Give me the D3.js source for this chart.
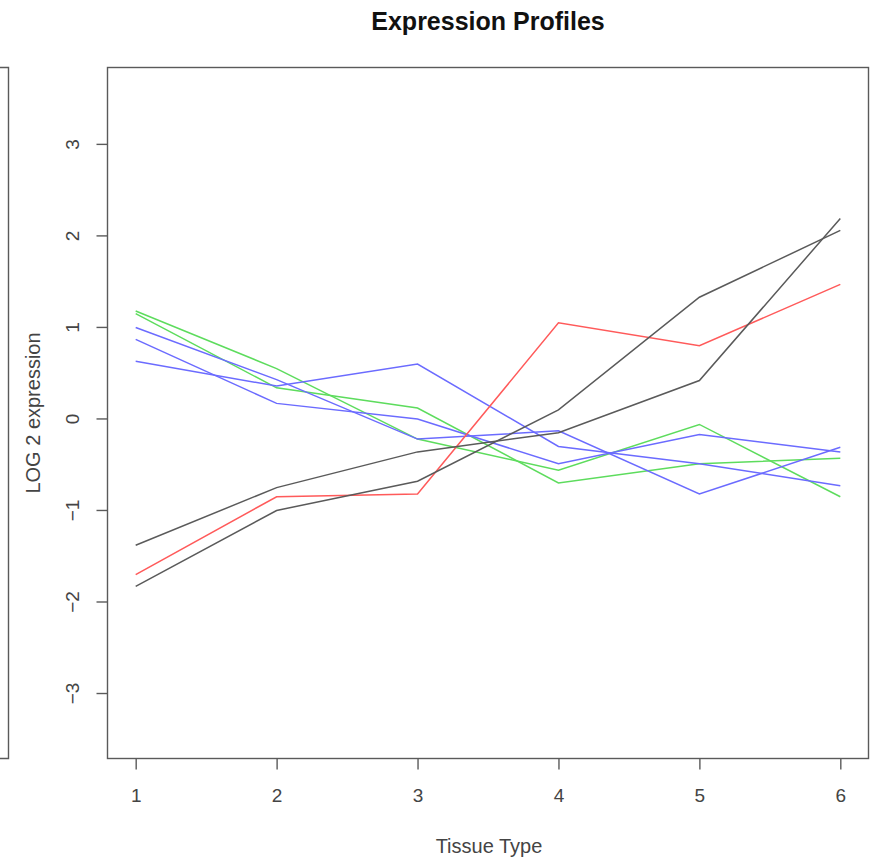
<!DOCTYPE html>
<html><head><meta charset="utf-8">
<script src="https://cdn.jsdelivr.net/npm/d3@7"></script>
<style>body{margin:0;background:#fff}svg{display:block}</style>
</head><body>
<svg id="c" width="870" height="859"></svg>
<script>
const tissues = [1, 2, 3, 4, 5, 6];
const xTicks = [1, 2, 3, 4, 5, 6];
const yTicks = [-3, -2, -1, 0, 1, 2, 3];
const seriesNames = ["G1","G2","B1","B2","B3","R1","K1","K2"];
const seriesColors = ["#5ddc5d","#5ddc5d","#6b6bff","#6b6bff","#6b6bff","#ff5a5a","#5a5a5a","#5a5a5a"];
const g1 = [1.18, 0.55, -0.22, -0.56, -0.06, -0.85];
const g2 = [1.15, 0.34, 0.12, -0.70, -0.49, -0.43];
const b1 = [0.63, 0.36, 0.60, -0.30, -0.49, -0.73];
const b2 = [0.87, 0.17, 0.00, -0.49, -0.17, -0.36];
const b3 = [1.00, 0.43, -0.22, -0.13, -0.82, -0.31];
const r1 = [-1.70, -0.85, -0.82, 1.05, 0.80, 1.47];
const k1 = [-1.38, -0.75, -0.36, -0.15, 0.42, 2.19];
const k2 = [-1.83, -1.00, -0.68, 0.10, 1.33, 2.06];
const seriesValues = [g1, g2, b1, b2, b3, r1, k1, k2];

const svg = d3.select("#c");
const L = 107.5, R = 868.5, T = 67.5, B = 758.5;
const x = d3.scaleLinear().domain([0.8, 6.2]).range([L, R]);
const y = d3.scaleLinear().domain([-3.71, 3.84]).range([B, T]);
const axisCol = "#5a5a5a", textCol = "#444";
const font = "'Liberation Sans', Arial, sans-serif";

// partial left panel
svg.append("path").attr("d", `M0,${T}H8.5V${B}H0`).attr("fill","none").attr("stroke",axisCol).attr("stroke-width",1.4);

// lines
const line = d3.line().x((d,i) => x(tissues[i])).y(d => y(d));
const plot = svg.append("g");
seriesValues.forEach((vals, i) => {
  plot.append("path").datum(vals).attr("d", line).attr("fill","none")
    .attr("stroke", seriesColors[i]).attr("stroke-width", 1.5);
});

// box
svg.append("rect").attr("x",L).attr("y",T).attr("width",R-L).attr("height",B-T)
  .attr("fill","none").attr("stroke",axisCol).attr("stroke-width",1.4);

// x axis
const xa = svg.append("g").attr("transform",`translate(0,${B})`)
  .call(d3.axisBottom(x).tickValues(xTicks).tickSize(11).tickPadding(19).tickFormat(d3.format("d")));
xa.select(".domain").remove();
xa.selectAll("line").attr("stroke",axisCol).attr("stroke-width",1.4);
xa.selectAll("text").attr("fill",textCol).style("font-family",font).style("font-size","19px");

// y axis
const ya = svg.append("g").attr("transform",`translate(${L},0)`)
  .call(d3.axisLeft(y).tickValues(yTicks).tickSize(11).tickPadding(0).tickFormat(d3.format("d")));
ya.select(".domain").remove();
ya.selectAll("line").attr("stroke",axisCol).attr("stroke-width",1.4);
ya.selectAll("text").attr("fill",textCol).style("font-family",font).style("font-size","19px")
  .attr("x",0).attr("dy",null).attr("text-anchor","middle")
  .attr("transform", d => `translate(-34,${y(d)}) rotate(-90)`).attr("y",0)
  .attr("dominant-baseline","middle");
ya.selectAll(".tick").attr("transform", d => `translate(0,0)`);
ya.selectAll(".tick line").attr("y1", d => y(d)).attr("y2", d => y(d)).attr("x2",-11);

// titles
svg.append("text").attr("x",488).attr("y",30).attr("text-anchor","middle")
  .style("font-family",font).style("font-size","25px").style("font-weight","bold").attr("fill","#111")
  .text("Expression Profiles");
svg.append("text").attr("x",489).attr("y",853).attr("text-anchor","middle")
  .style("font-family",font).style("font-size","20px").attr("fill",textCol).text("Tissue Type");
svg.append("text").attr("transform",`translate(40,${(T+B)/2}) rotate(-90)`).attr("text-anchor","middle")
  .style("font-family",font).style("font-size","20px").attr("fill",textCol).text("LOG 2 expression");
</script>
</body></html>
